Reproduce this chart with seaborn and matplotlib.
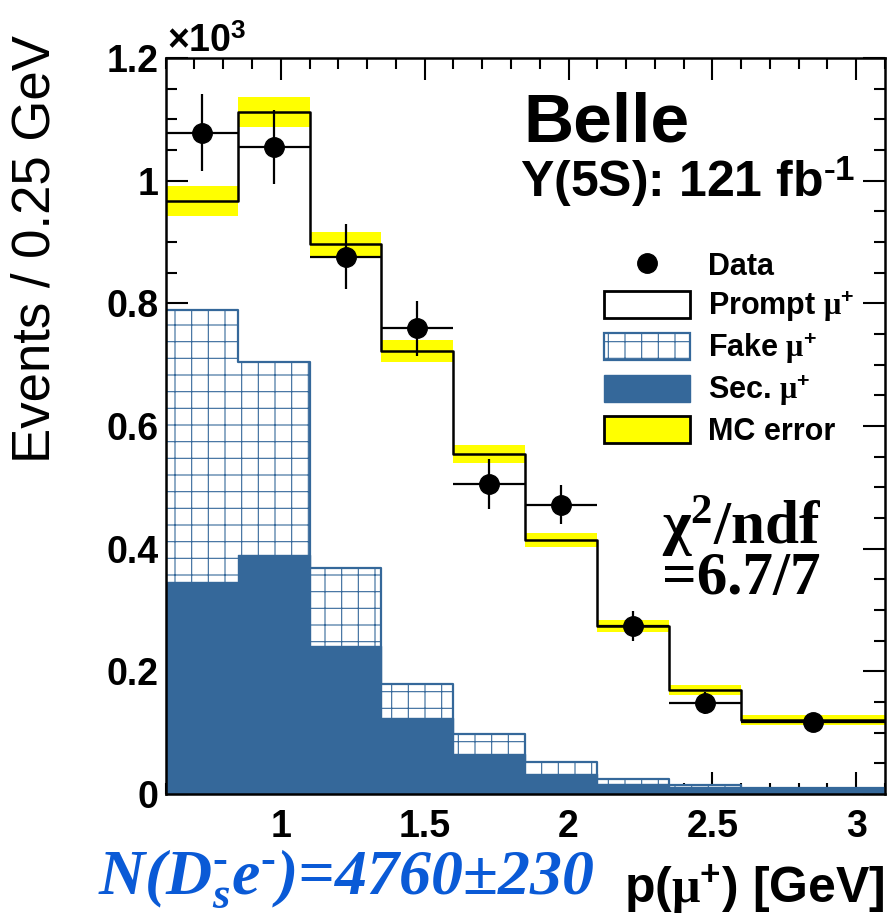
import matplotlib
matplotlib.use("Agg")
import matplotlib.pyplot as plt
import numpy as np
import seaborn as sns
from matplotlib.lines import Line2D
from matplotlib.patches import Patch
from matplotlib.ticker import MultipleLocator, FuncFormatter

# bins of p(mu+) in GeV (last bin is wider)
edges = [0.6, 0.85, 1.1, 1.35, 1.6, 1.85, 2.1, 2.35, 2.6, 3.1]
centers = [0.725, 0.975, 1.225, 1.475, 1.725, 1.975, 2.225, 2.475, 2.85]

# events per bin
data = [1078, 1055, 876, 759, 505, 472, 274, 148, 117]
data_err = [63, 61, 53, 45, 41, 31, 24, 18, 13]
prompt = [178, 407, 527, 543, 456, 362, 249, 156, 111]
fake = [444, 316, 128, 55, 33, 19, 9, 2, 1]
sec = [345, 389, 241, 124, 65, 33, 16, 12, 8]
mc_err = [25, 24, 21, 18, 15, 12, 10, 8, 8]

blue = "#35689a"
W, H = 891, 914

sns.set_style("ticks")
plt.rcParams["font.family"] = ["Liberation Sans", "DejaVu Sans"]
plt.rcParams["font.weight"] = "bold"
for key in ["text.color", "axes.labelcolor", "xtick.color", "ytick.color",
            "axes.edgecolor"]:
    plt.rcParams[key] = "black"
plt.rcParams["mathtext.fontset"] = "custom"
plt.rcParams["mathtext.rm"] = "Liberation Serif"
plt.rcParams["mathtext.it"] = "Liberation Serif:italic:bold"
plt.rcParams["mathtext.bf"] = "Liberation Sans:bold"
plt.rcParams["hatch.color"] = blue
plt.rcParams["hatch.linewidth"] = 0.8


def fpos(x, y):
    return x / W, 1 - y / H


fig = plt.figure(figsize=(W / 100, H / 100), dpi=100)
ax = fig.add_axes([165.7 / W, (H - 794) / H, (885 - 165.7) / W, (794 - 58) / H])

sec_arr = np.array(sec)
hatched = sec_arr + np.array(fake)
total = hatched + np.array(prompt)
lo = total - np.array(mc_err)
hi = total + np.array(mc_err)
widths = np.diff(edges)

# MC error band
ax.bar(edges[:-1], hi - lo, bottom=lo, width=widths, align="edge",
       color="#ffff00", linewidth=0, zorder=1)

# total MC (prompt on top of the background)
sns.histplot(x=centers, weights=total, bins=edges, element="step", fill=False,
             color="black", linewidth=1.8, ax=ax, zorder=2)

# fake muons (hatched) stacked on secondary muons
sns.histplot(x=centers, weights=hatched, bins=edges, element="step", fill=True,
             facecolor="white", edgecolor=blue, hatch="+", linewidth=1.6,
             alpha=1, ax=ax, zorder=3)
sns.histplot(x=centers, weights=sec, bins=edges, element="step", fill=True,
             facecolor=blue, edgecolor=blue, linewidth=1.0,
             alpha=1, ax=ax, zorder=4)

# data
ax.errorbar(centers, data, yerr=data_err, xerr=widths / 2, fmt="o", color="black",
            markersize=14, elinewidth=1.6, capsize=0, zorder=5)

ax.set_xlim(0.6, 3.1)
ax.set_ylim(0, 1200)
ax.set_xlabel("")
ax.set_ylabel("")
ax.xaxis.set_major_locator(MultipleLocator(0.5))
ax.xaxis.set_minor_locator(MultipleLocator(0.1))
ax.yaxis.set_major_locator(MultipleLocator(200))
ax.yaxis.set_minor_locator(MultipleLocator(50))
ax.xaxis.set_major_formatter(FuncFormatter(lambda v, p: f"{v:g}"))
ax.yaxis.set_major_formatter(FuncFormatter(lambda v, p: f"{v / 1000:g}"))
ax.tick_params(which="both", direction="in", top=True, right=True, width=1.5,
               labelsize=27, color="black", labelcolor="black")
ax.tick_params(which="major", length=16)
ax.tick_params(which="minor", length=8)
ax.tick_params(axis="x", pad=11)
ax.tick_params(axis="y", pad=5)
for lab in ax.get_xticklabels() + ax.get_yticklabels():
    lab.set_fontweight("bold")
for s in ax.spines.values():
    s.set_linewidth(1.8)
    s.set_color("black")
    s.set_zorder(6)

# texts
fig.text(*fpos(167, 52), r"×10$^{\mathbf{3}}$", fontsize=27, fontweight="bold",
         ha="left", va="baseline")
fig.text(*fpos(36, 35), "Events / 0.25 GeV", fontsize=38, fontweight="normal",
         rotation=90, ha="center", va="top")
fig.text(*fpos(885, 902), r"p($\mathrm{\mu}^{\mathbf{+}}$) [GeV]", fontsize=36,
         fontweight="bold", ha="right", va="baseline")
fig.text(*fpos(98, 894), r"N(D$_{s}^{\text{-}}$e$^{\text{-}}$)=4760±230", fontsize=46,
         family="Liberation Serif", style="italic", fontweight="bold",
         color="#0a5ad6", ha="left", va="baseline")
fig.text(*fpos(523, 142), "Belle", fontsize=50, fontweight="bold",
         ha="left", va="baseline")
fig.text(*fpos(520, 197), r"Υ(5S): 121 fb$^{\mathbf{\text{-}1}}$", fontsize=36,
         fontweight="bold", ha="left", va="baseline")
fig.text(*fpos(662, 594), "χ$^{2}$/ndf\n=6.7/7", fontsize=44,
         family="Liberation Serif", fontweight="bold", linespacing=0.82,
         ha="left", va="baseline", multialignment="left")

# legend
handles = [
    Line2D([], [], marker="o", color="black", linestyle="none", markersize=14),
    Patch(facecolor="white", edgecolor="black", linewidth=2),
    Patch(facecolor="white", edgecolor=blue, hatch="+", linewidth=1.6),
    Patch(facecolor=blue, edgecolor=blue),
    Patch(facecolor="#ffff00", edgecolor="black", linewidth=2),
]
labels = ["Data", r"Prompt $\mathrm{\mu}^{\mathbf{+}}$", r"Fake $\mathrm{\mu}^{\mathbf{+}}$",
          r"Sec. $\mathrm{\mu}^{\mathbf{+}}$", "MC error"]
ax.legend(handles, labels, loc="upper left", bbox_to_anchor=fpos(604, 251),
          bbox_transform=fig.transFigure, frameon=False, borderpad=0,
          borderaxespad=0, prop={"size": 22, "weight": "bold"},
          handlelength=2.8, handleheight=0.98, labelspacing=0.26, handletextpad=0.6)

fig.savefig("out.png", dpi=100)
